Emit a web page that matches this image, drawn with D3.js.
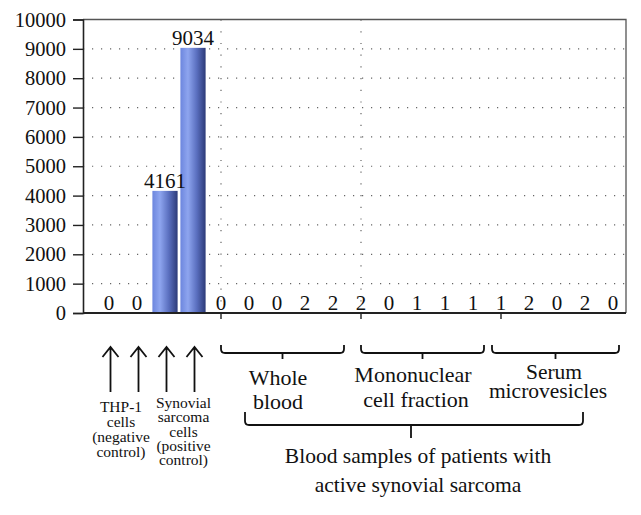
<!DOCTYPE html>
<html><head><meta charset="utf-8">
<script src="https://cdn.jsdelivr.net/npm/d3@7"></script>
</head><body style="margin:0">
<svg id="chart" width="641" height="515" style="display:block"></svg>
<script>
const values = [0,0,4161,9034, 0,0,0,2,2, 2,0,1,1,1, 1,2,0,2,0];
const yTicks = [0,1000,2000,3000,4000,5000,6000,7000,8000,9000,10000];
const groups = [
  {name:["Whole","blood"], from:4, to:8},
  {name:["Mononuclear","cell fraction"], from:9, to:13},
  {name:["Serum","microvesicles"], from:14, to:18}
];
const controlLabels = [
  {lines:["THP-1","cells","(negative","control)"], at:0.5},
  {lines:["Synovial","sarcoma","cells","(positive","control)"], at:2.5}
];
const arrowCats = [0,1,2,3];
const separators = [4,9];
const bottomTicks = [4,9,14];
const bigLabel = ["Blood samples of patients with","active synovial sarcoma"];

const FONT="Liberation Serif";
const L=83,R=626,T=19.5,B=313;
const svg=d3.select("#chart");
const defs=svg.append("defs");
const g=defs.append("linearGradient").attr("id","bar").attr("x1","0").attr("x2","1").attr("y1","0").attr("y2","0");
g.append("stop").attr("offset","0").attr("stop-color","#6c86de");
g.append("stop").attr("offset","0.3").attr("stop-color","#8ea5ef");
g.append("stop").attr("offset","0.65").attr("stop-color","#5a6fbf");
g.append("stop").attr("offset","1").attr("stop-color","#2c3a78");

const x=d3.scaleBand().domain(d3.range(values.length)).range([95,627]).paddingInner(0.1).paddingOuter(0.05);
const xc=i=>x(i)+x.bandwidth()/2;
const y=d3.scaleLinear().domain([0,10000]).range([B,T]);

function txt(sel){ return sel.attr("font-family",FONT).attr("fill","#111"); }

// grid
svg.append("g").selectAll("line").data(yTicks.filter(d=>d>0&&d<10000)).join("line")
  .attr("x1",L).attr("x2",R).attr("y1",d=>y(d)).attr("y2",d=>y(d))
  .attr("stroke","#666").attr("stroke-width",1.2).attr("stroke-dasharray","1.2,7.8");
svg.append("g").selectAll("line").data(separators).join("line")
  .attr("x1",d=>xc(d)).attr("x2",d=>xc(d)).attr("y1",T).attr("y2",B)
  .attr("stroke","#666").attr("stroke-width",1.2).attr("stroke-dasharray","1.2,10.5");

// frame top/right
svg.append("path").attr("d",`M${L},${T}H${R}V${B}`).attr("fill","none").attr("stroke","#555").attr("stroke-width",1.3);

// bars
svg.append("g").selectAll("rect").data(values.map((v,i)=>({v,i})).filter(d=>d.v>100)).join("rect")
  .attr("x",d=>x(d.i)).attr("width",x.bandwidth()).attr("y",d=>y(d.v)).attr("height",d=>B-y(d.v))
  .attr("fill","url(#bar)");

// value labels
txt(svg.append("g").selectAll("text").data(values.map((v,i)=>({v,i}))).join("text"))
  .attr("x",d=>xc(d.i)).attr("y",d=>d.v>100?y(d.v)-3:B-3)
  .attr("text-anchor","middle").attr("font-size",21).text(d=>String(d.v));

// y axis
const ya=svg.append("g").attr("transform",`translate(${L},0)`)
  .call(d3.axisLeft(y).tickValues(yTicks).tickSize(10).tickPadding(7).tickFormat(d3.format("d")));
ya.attr("font-family",null).attr("font-size",null);
ya.select(".domain").attr("stroke","#222").attr("stroke-width",1.6);
ya.selectAll(".tick line").attr("stroke","#222").attr("stroke-width",1.4);
txt(ya.selectAll("text")).attr("font-size",20.5);

// x baseline
svg.append("line").attr("x1",L).attr("x2",R).attr("y1",B).attr("y2",B).attr("stroke","#222").attr("stroke-width",1.8);
svg.append("g").selectAll("line").data(bottomTicks).join("line")
  .attr("x1",d=>xc(d)).attr("x2",d=>xc(d)).attr("y1",B).attr("y2",B+6).attr("stroke","#222").attr("stroke-width",1.4);

// arrows
const ag=svg.append("g").attr("stroke","#111").attr("stroke-width",1.8).attr("fill","none");
arrowCats.forEach(i=>{
  const cx=xc(i)+1.5;
  ag.append("path").attr("d",`M${cx},392V347.5M${cx-8},357L${cx},347L${cx+8},357`);
});

// control labels
controlLabels.forEach((c,k)=>{
  const cx=(xc(Math.floor(c.at))+xc(Math.ceil(c.at)))/2+(k===0?-2:4.5);
  const base = k===0?412:408;
  const step = k===0?15:14.3;
  c.lines.forEach((line,j)=>{
    txt(svg.append("text")).attr("text-anchor","middle").attr("font-size",15.5)
      .attr("x",cx).attr("y",base+j*step).text(line);
  });
});

// bracket
function bracket(x1,x2,top,h,bot,xm){
  const r=4;
  svg.append("path").attr("fill","none").attr("stroke","#111").attr("stroke-width",1.8)
    .attr("d",`M${x1},${top}V${h-r}Q${x1},${h} ${x1+r},${h}H${x2-r}Q${x2},${h} ${x2},${h-r}V${top}M${xm},${h}V${bot}`);
}
groups.forEach((gr,k)=>{
  const x1=xc(gr.from)+ (k===2?-9:0);
  const x2=xc(gr.to)+ (k===2?6:11);
  const xm=(x1+x2)/2;
  bracket(x1,x2,345,353,359,xm);
  const base=[385,382,379][k];
  const step=[24,25,19][k];
  const cx=[278,413,548][k];
  gr.name.forEach((line,j)=>{
    txt(svg.append("text")).attr("text-anchor","middle").attr("font-size",k===2?21.5:22)
      .attr("x",k===1&&j===1?cx+3:(k===2&&j===0?cx+6:cx)).attr("y",base+j*step).text(line);
  });
});
// big bracket
bracket(xc(4)+24,xc(17)-2,412,425,438,411);
bigLabel.forEach((line,j)=>{
  txt(svg.append("text")).attr("text-anchor","middle").attr("font-size",21.5)
    .attr("x",418).attr("y",463+j*29).text(line);
});
</script>
</body></html>
